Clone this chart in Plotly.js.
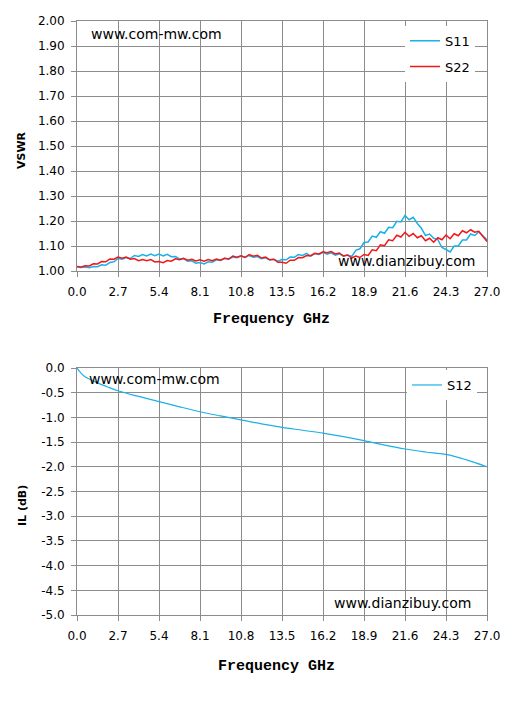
<!DOCTYPE html>
<html>
<head>
<meta charset="utf-8">
<script src="https://cdn.plot.ly/plotly-3.0.1.min.js"></script>
<style>
html,body{margin:0;padding:0;background:#fff;}
#chart{width:513px;height:702px;}
</style>
</head>
<body>
<div id="chart"></div>
<script>
// ---- data ----
var freqVswr = [0,0.27,0.54,0.81,1.08,1.35,1.62,1.89,2.16,2.43,2.7,2.97,3.24,3.51,3.78,4.05,4.32,4.59,4.86,5.13,5.4,5.67,5.94,6.21,6.48,6.75,7.02,7.29,7.56,7.83,8.1,8.37,8.64,8.91,9.18,9.45,9.72,9.99,10.26,10.53,10.8,11.07,11.34,11.61,11.88,12.15,12.42,12.69,12.96,13.23,13.5,13.77,14.04,14.31,14.58,14.85,15.12,15.39,15.66,15.93,16.2,16.47,16.74,17.01,17.28,17.55,17.82,18.09,18.36,18.63,18.9,19.17,19.44,19.71,19.98,20.25,20.52,20.79,21.06,21.33,21.6,21.87,22.14,22.41,22.68,22.95,23.22,23.49,23.76,24.03,24.3,24.57,24.84,25.11,25.38,25.65,25.92,26.19,26.46,26.73,27];

var s11 = [1.016,1.014,1.016,1.013,1.018,1.017,1.025,1.023,1.034,1.037,1.050,1.047,1.054,1.050,1.062,1.058,1.066,1.060,1.068,1.061,1.068,1.060,1.067,1.057,1.058,1.048,1.050,1.039,1.041,1.031,1.034,1.028,1.037,1.035,1.045,1.042,1.051,1.047,1.056,1.053,1.060,1.055,1.062,1.055,1.058,1.049,1.053,1.044,1.047,1.039,1.046,1.045,1.056,1.055,1.066,1.062,1.071,1.060,1.070,1.066,1.075,1.067,1.073,1.063,1.069,1.059,1.064,1.058,1.083,1.089,1.114,1.116,1.140,1.135,1.157,1.151,1.175,1.173,1.199,1.196,1.222,1.205,1.215,1.190,1.171,1.142,1.148,1.131,1.126,1.094,1.086,1.076,1.100,1.100,1.124,1.124,1.148,1.142,1.156,1.142,1.125];

var s22 = [1.018,1.016,1.021,1.020,1.029,1.028,1.038,1.037,1.048,1.047,1.056,1.051,1.056,1.047,1.050,1.041,1.046,1.041,1.046,1.036,1.038,1.033,1.042,1.039,1.049,1.045,1.051,1.043,1.047,1.040,1.045,1.039,1.046,1.041,1.048,1.043,1.051,1.048,1.060,1.055,1.061,1.054,1.066,1.059,1.063,1.052,1.056,1.045,1.047,1.035,1.035,1.031,1.043,1.043,1.054,1.053,1.062,1.061,1.071,1.068,1.077,1.073,1.078,1.068,1.072,1.060,1.064,1.052,1.060,1.054,1.066,1.062,1.085,1.081,1.105,1.101,1.125,1.121,1.143,1.136,1.155,1.139,1.150,1.133,1.141,1.121,1.131,1.115,1.133,1.125,1.144,1.129,1.149,1.141,1.161,1.153,1.165,1.155,1.159,1.138,1.118];

var freqIL = [0,0.2,0.5,1,1.5,2,2.7,4,5.4,6.75,8.1,9.45,10.8,12.15,13.5,14.85,16.2,17.55,18.9,20.25,21.6,22.95,24.3,25.65,27];
var s12 = [0,-0.08,-0.17,-0.25,-0.32,-0.38,-0.46,-0.57,-0.68,-0.785,-0.885,-0.97,-1.05,-1.13,-1.20,-1.26,-1.32,-1.39,-1.47,-1.56,-1.64,-1.70,-1.75,-1.86,-2.0];

var freqTickVals = [0,2.7,5.4,8.1,10.8,13.5,16.2,18.9,21.6,24.3,27];
var freqTickText = ["0.0","2.7","5.4","8.1","10.8","13.5","16.2","18.9","21.6","24.3","27.0"];
var vswrTickVals = [1.0,1.1,1.2,1.3,1.4,1.5,1.6,1.7,1.8,1.9,2.0];
var vswrTickText = ["1.00","1.10","1.20","1.30","1.40","1.50","1.60","1.70","1.80","1.90","2.00"];
var ilTickVals = [0,-0.5,-1,-1.5,-2,-2.5,-3,-3.5,-4,-4.5,-5];
var ilTickText = ["0.0","-0.5","-1.0","-1.5","-2.0","-2.5","-3.0","-3.5","-4.0","-4.5","-5.0"];

// ---- styling ----
var GRID = '#8c8c8c';
var BLUE = '#1cb0e8';
var RED = '#f01818';
var tickFont = {family:'DejaVu Sans, Verdana, sans-serif', size:12, color:'#000'};

var traces = [
  {x:freqVswr, y:s11, name:'S11', type:'scatter', mode:'lines', line:{color:BLUE, width:1.5}, xaxis:'x', yaxis:'y', legend:'legend', legendgroup:'a'},
  {x:freqVswr, y:s22, name:'S22', type:'scatter', mode:'lines', line:{color:RED, width:1.5}, xaxis:'x', yaxis:'y', legend:'legend', legendgroup:'b'},
  {x:freqIL, y:s12, name:'S12', type:'scatter', mode:'lines', line:{color:BLUE, width:1.2, shape:'spline'}, xaxis:'x2', yaxis:'y2', legend:'legend2'}
];

function xax(anchor){
  return {anchor:anchor, range:[0,27], tickmode:'array', tickvals:freqTickVals, ticktext:freqTickText,
    showgrid:true, gridcolor:GRID, gridwidth:1, zeroline:false,
    showline:true, linecolor:GRID, linewidth:1, mirror:true,
    ticks:'outside', ticklen:5, tickcolor:GRID, tickwidth:1,
    tickfont:tickFont, ticklabelstandoff:5, fixedrange:true};
}
function yax(anchor, domain, rng, tv, tt){
  return {anchor:anchor, domain:domain, range:rng, tickmode:'array', tickvals:tv, ticktext:tt,
    showgrid:true, gridcolor:GRID, gridwidth:1, zeroline:false,
    showline:true, linecolor:GRID, linewidth:1, mirror:true,
    ticks:'outside', ticklen:5, tickcolor:GRID, tickwidth:1,
    tickfont:tickFont, ticklabelstandoff:4, fixedrange:true};
}

var txtFont = {family:'DejaVu Sans, Verdana, sans-serif', size:14, color:'#000'};
var titleFontX = {family:"'Liberation Mono', 'Courier New', monospace", size:15, color:'#000', weight:'bold'};
var titleFontY = {family:'DejaVu Sans, Verdana, sans-serif', size:11, color:'#000', weight:'bold'};

var layout = {
  width:513, height:702,
  margin:{l:77, r:26, t:21, b:87},
  paper_bgcolor:'#fff', plot_bgcolor:'#fff',
  showlegend:true,
  xaxis: xax('y'),
  yaxis: yax('x', [0.5791,1], [1,2], vswrTickVals, vswrTickText),
  xaxis2: xax('y2'),
  yaxis2: yax('x2', [0,0.4158], [-5,0], ilTickVals, ilTickText),
  legend:{x:0.8, y:0.992, xanchor:'left', yanchor:'top', bgcolor:'#fff', borderwidth:0,
    font:{family:'DejaVu Sans, Verdana, sans-serif', size:13, color:'#000'}, tracegroupgap:6, itemwidth:30},
  legend2:{x:0.805, y:1.0, yref:'paper', xanchor:'left', yanchor:'top', bgcolor:'#fff', borderwidth:0,
    font:{family:'DejaVu Sans, Verdana, sans-serif', size:13, color:'#000'}, itemwidth:30},
  annotations:[
    {text:'www.com-mw.com', xref:'x', yref:'y', x:0.8, y:1.948, xanchor:'left', yanchor:'middle', showarrow:false, font:txtFont},
    {text:'www.dianzibuy.com', xref:'x', yref:'y', x:17.05, y:1.04, xanchor:'left', yanchor:'middle', showarrow:false, font:txtFont},
    {text:'www.com-mw.com', xref:'x2', yref:'y2', x:0.65, y:-0.22, xanchor:'left', yanchor:'middle', showarrow:false, font:txtFont},
    {text:'www.dianzibuy.com', xref:'x2', yref:'y2', x:16.8, y:-4.76, xanchor:'left', yanchor:'middle', showarrow:false, font:txtFont},
    {text:'Frequency GHz', xref:'paper', yref:'paper', x:(271-77)/410, y:(615-319)/594, xanchor:'center', yanchor:'middle', showarrow:false, font:titleFontX},
    {text:'Frequency GHz', xref:'paper', yref:'paper', x:(276-77)/410, y:(615-666)/594, xanchor:'center', yanchor:'middle', showarrow:false, font:titleFontX},
    {text:'VSWR', xref:'paper', yref:'paper', x:(22-77)/410, y:(615-150)/594, xanchor:'center', yanchor:'middle', textangle:-90, showarrow:false, font:titleFontY},
    {text:'IL (dB)', xref:'paper', yref:'paper', x:(22-77)/410, y:(615-506)/594, xanchor:'center', yanchor:'middle', textangle:-90, showarrow:false, font:titleFontY}
  ]
};
layout.legend2.y = 0.4158 - 2/594;

Plotly.newPlot('chart', traces, layout, {displayModeBar:false, staticPlot:true});
</script>
</body>
</html>
